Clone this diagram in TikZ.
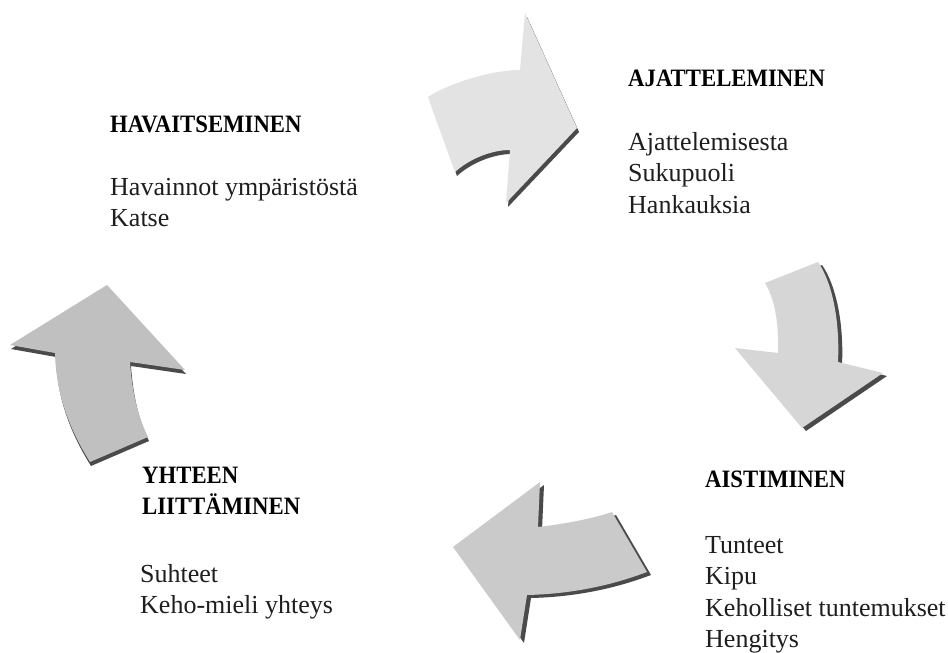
\documentclass[tikz,border=0pt]{standalone}
\usepackage{fontspec}
\setmainfont{Liberation Serif}
\newfontfamily\headfont[FakeStretch=0.91,BoldFont={Liberation Serif Bold}]{Liberation Serif Bold}
\definecolor{txt}{HTML}{1E1E1E}
\definecolor{shade}{HTML}{4A4A4A}
\definecolor{aone}{HTML}{E3E3E3}
\definecolor{atwo}{HTML}{D6D6D6}
\definecolor{athree}{HTML}{CACACA}
\definecolor{afour}{HTML}{C0C0C0}
\begin{document}
\begin{tikzpicture}[x=1pt,y=-1pt,
  head/.style={anchor=base west,inner sep=0pt,text=black,font=\headfont\fontsize{25}{31}\selectfont,align=left},
  body/.style={anchor=base west,inner sep=0pt,text=txt,font=\fontsize{26}{31.5}\selectfont,align=left},
  arrowshadow/.style={fill=shade,draw=none},
  arrowbody/.style={draw=none}]
\useasboundingbox (0,0) rectangle (948,653);
\fill[white] (0,0) rectangle (948,653);

% Arrow 1 (top, pointing right)
\def\arrowone{(428,97) .. controls (448,84) and (490,70) .. (520,70) -- (525,13) -- (577,128) -- (506,203) -- (510,150) .. controls (490,150) and (468,160) .. (455,172) -- cycle}
\fill[arrowshadow,shift={(2,4)}] \arrowone;
\fill[aone,arrowbody] \arrowone;

% Arrow 2 (right, pointing down)
\def\arrowtwo{(765,283) -- (818,262) .. controls (832,282) and (840,320) .. (838,362) -- (883,373) -- (802,428) -- (735,348) -- (778,353) .. controls (779,320) and (774,298) .. (765,283) -- cycle}
\fill[arrowshadow,shift={(4,3)}] \arrowtwo;
\fill[atwo,arrowbody] \arrowtwo;

% Arrow 3 (bottom, pointing left)
\def\arrowthree{(540,482) -- (538,527) .. controls (565,524) and (595,518) .. (612,512) -- (647,572) .. controls (610,586) and (570,594) .. (527,595) -- (520,640) -- (453,547) -- cycle}
\fill[arrowshadow,shift={(4,3)}] \arrowthree;
\fill[athree,arrowbody] \arrowthree;

% Arrow 4 (left, pointing up)
\def\arrowfour{(107,285) -- (185,370) -- (130,362) .. controls (132,390) and (137,415) .. (148,437) -- (90,462) .. controls (70,430) and (56,395) .. (55,353) -- (10,345) -- cycle}
\fill[arrowshadow,shift={(1,4)}] \arrowfour;
\fill[afour,arrowbody] \arrowfour;

% Texts (base anchor = baseline of the last line)
\node[head] (havh) at (110,132) {HAVAITSEMINEN};
\node[body] (havb) at (110,226.5) {Havainnot ympäristöstä\\Katse};

\node[head] (ajah) at (628,86) {AJATTELEMINEN};
\node[body] (ajab) at (628,213) {Ajattelemisesta\\Sukupuoli\\Hankauksia};

\node[head] (aish) at (705,487) {AISTIMINEN};
\node[body] (aisb) at (705,647.5) {Tunteet\\Kipu\\Keholliset tuntemukset\\Hengitys};

\node[head] (yhth) at (142,514) {YHTEEN\\LIITTÄMINEN};
\node[body] (yhtb) at (140,613.5) {Suhteet\\Keho-mieli yhteys};
\end{tikzpicture}
\end{document}
